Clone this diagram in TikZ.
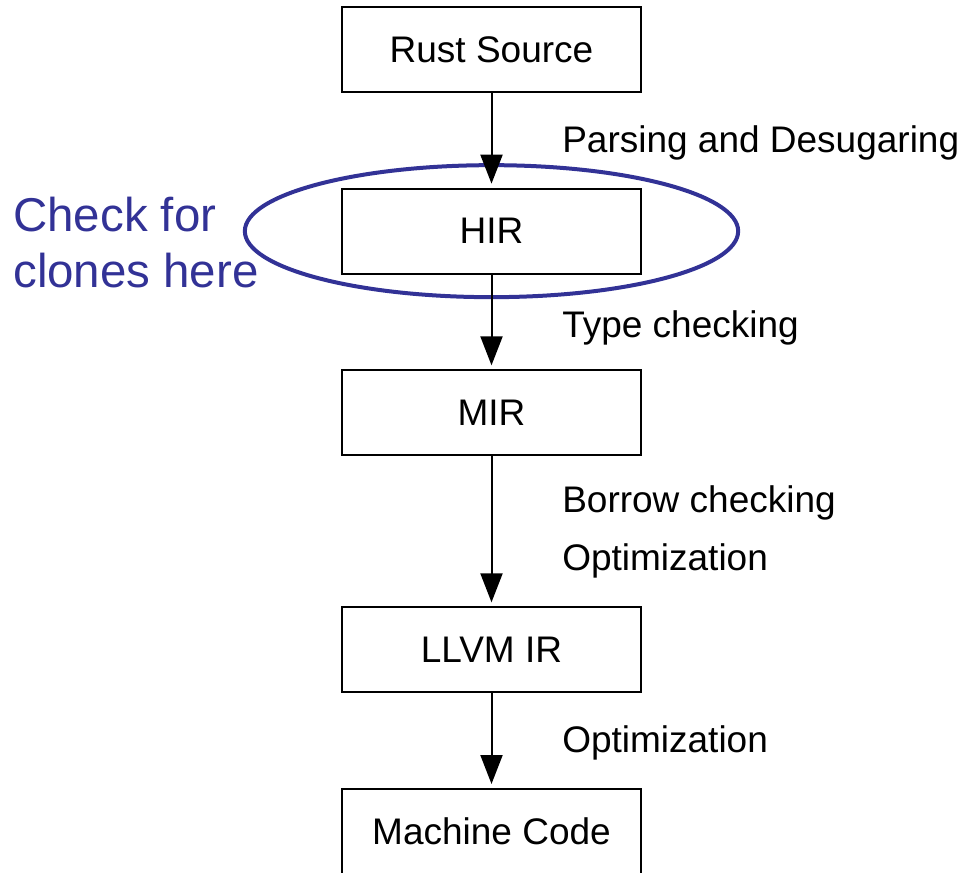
\documentclass[tikz,border=0pt]{standalone}
\usepackage{fontspec}
\setmainfont{Liberation Sans}
\usetikzlibrary{arrows.meta,positioning}
\definecolor{noteblue}{RGB}{50,50,150}

\begin{document}
\begin{tikzpicture}[x=0.75pt,y=-0.75pt,
    node distance=71pt,
    box/.style={rectangle,draw=black,line width=1.5pt,minimum width=224pt,
      minimum height=63.75pt,font=\fontsize{27.75}{33}\selectfont},
    lbl/.style={anchor=base west,inner sep=0pt,font=\fontsize{27.75}{33}\selectfont},
    note/.style={anchor=base west,align=left,inner sep=0pt,text=noteblue,
      font=\fontsize{35.6}{42}\selectfont},
    hl/.style={draw=noteblue,line width=3pt},
    a/.style={-{Triangle[length=21.75pt,width=16.5pt]},line width=1.5pt,shorten >=3pt}]
    \useasboundingbox (0,0) rectangle (966,873);
    \node[box] (rust) at (491.5,49.5) {Rust Source};
    \node[box,below=of rust] (hir) {HIR};
    \node[box,below=of hir] (mir) {MIR};
    \node[box,below=112.5pt of mir] (llvm) {LLVM IR};
    \node[box,below=of llvm] (mc) {Machine Code};
    % clone check
    \draw[hl] (hir.center) ellipse [x radius=185pt, y radius=49.5pt];
    \node[note] (clones) at (13,288) {Check for\\clones here};
    \draw[a](rust)--(hir); \draw[a](hir)--(mir);
    \draw[a](mir)--(llvm); \draw[a](llvm)--(mc);
    \node[lbl] (parse) at (562,153) {Parsing and Desugaring};
    \node[lbl] (tyck) at (562,337) {Type checking};
    \node[lbl] (borrow) at (562,512) {Borrow checking};
    \node[lbl] (opt1) at (562,570) {Optimization};
    \node[lbl] (opt2) at (562,752) {Optimization};
\end{tikzpicture}
\end{document}
